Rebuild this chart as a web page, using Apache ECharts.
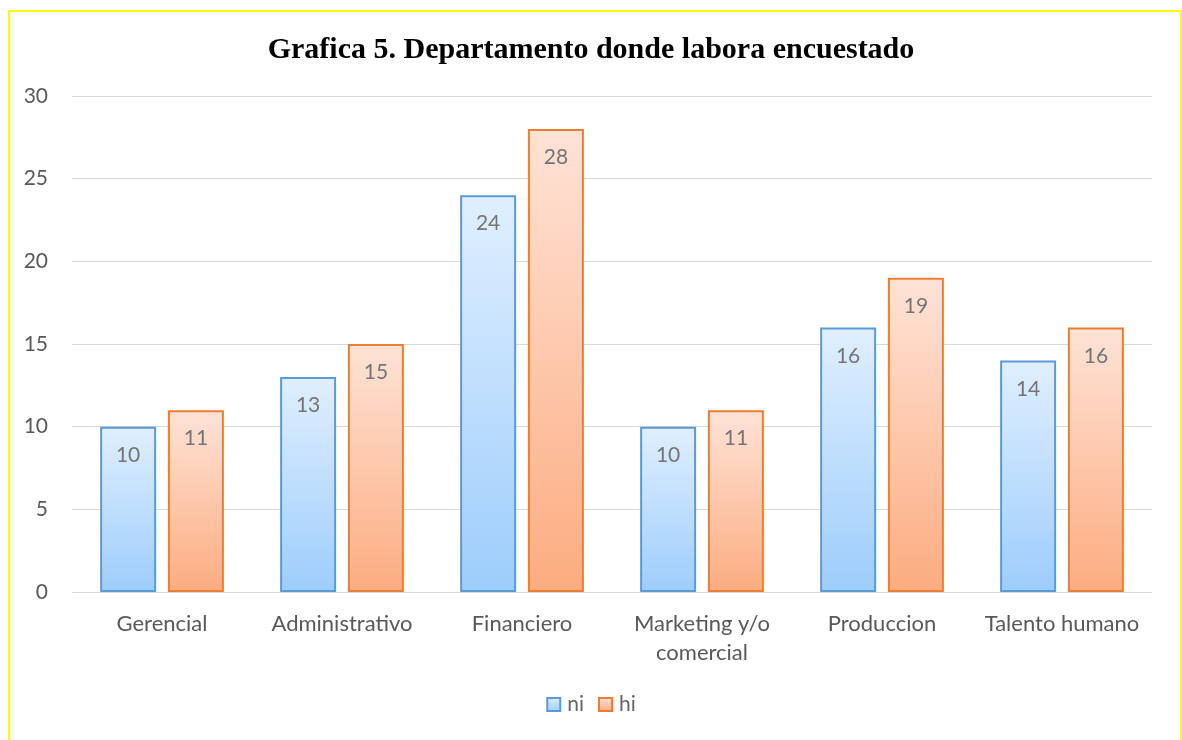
<!DOCTYPE html>
<html>
<head>
<meta charset="utf-8">
<script src="https://cdn.jsdelivr.net/npm/echarts@6/dist/echarts.min.js"></script>
<style>
  html, body { margin: 0; padding: 0; background: #fff; }
  #frame {
    position: absolute; left: 8px; top: 10px; width: 1174px; height: 760px;
    border: 2px solid #ffff00; box-sizing: border-box;
  }
  #main { position: absolute; left: 0; top: 0; width: 1182px; height: 740px; }
</style>
</head>
<body>
<div id="frame"></div>
<div id="main"></div>
<script>
const categories = ["Gerencial", "Administrativo", "Financiero", "Marketing y/o\ncomercial", "Produccion", "Talento humano"];
const niValues = [10, 13, 24, 10, 16, 14];
const hiValues = [11, 15, 28, 11, 19, 16];
const yTicks = { min: 0, max: 30, interval: 5 };

const chart = echarts.init(document.getElementById("main"));

function grad(top, bottom) {
  return new echarts.graphic.LinearGradient(0, 0, 0, 1, [
    { offset: 0, color: top },
    { offset: 1, color: bottom },
  ]);
}

const labelStyle = {
  show: true,
  position: "insideTop",
  distance: 18,
  color: "#757575",
  fontSize: 21,
  fontFamily: "Lato",
};

chart.setOption({
  animation: false,
  title: {
    text: "Grafica 5. Departamento donde labora encuestado",
    left: "center",
    top: 30,
    textStyle: {
      fontFamily: "Liberation Serif",
      fontWeight: "bold",
      fontSize: 30,
      color: "#000",
    },
  },
  grid: { left: 72, right: 30, top: 96, bottom: 148 },
  legend: {
    bottom: 20,
    left: "center",
    itemWidth: 13,
    itemHeight: 13,
    itemGap: 14,
    icon: "rect",
    textStyle: { color: "#666", fontSize: 21, fontFamily: "Lato", padding: [0, 0, 0, 2] },
    data: ["ni", "hi"],
  },
  xAxis: {
    type: "category",
    data: categories,
    axisLine: { lineStyle: { color: "#d9d9d9", width: 1 } },
    axisTick: { show: false },
    axisLabel: {
      color: "#595959",
      fontSize: 22,
      fontFamily: "Lato",
      margin: 17,
      lineHeight: 29,
      interval: 0,
    },
  },
  yAxis: {
    type: "value",
    min: yTicks.min,
    max: yTicks.max,
    interval: yTicks.interval,
    axisLine: { show: false },
    axisTick: { show: false },
    splitLine: { lineStyle: { color: "#d9d9d9", width: 1 } },
    axisLabel: { color: "#595959", fontSize: 21, fontFamily: "Lato", margin: 24 },
  },
  series: [
    {
      name: "ni",
      type: "bar",
      data: niValues,
      barWidth: 56,
      barGap: "21%",
      itemStyle: {
        color: grad("#e0efff", "#9dcdfc"),
        borderColor: "#5b9bd5",
        borderWidth: 2,
      },
      label: labelStyle,
    },
    {
      name: "hi",
      type: "bar",
      data: hiValues,
      barWidth: 56,
      itemStyle: {
        color: grad("#ffe3d7", "#fcac80"),
        borderColor: "#ed7d31",
        borderWidth: 2,
      },
      label: labelStyle,
    },
  ],
});
</script>
</body>
</html>
